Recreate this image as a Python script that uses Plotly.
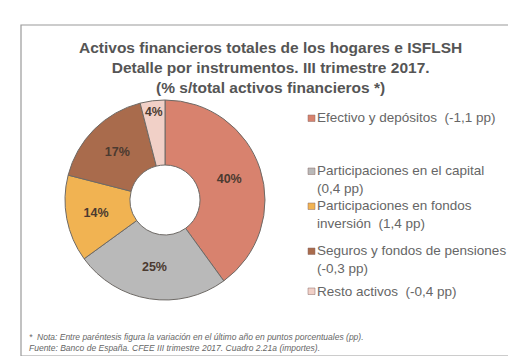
import plotly.graph_objects as go

categories = ["Efectivo y depósitos", "Participaciones en el capital",
              "Participaciones en fondos inversión", "Seguros y fondos de pensiones",
              "Resto activos"]
values = [40, 25, 14, 17, 4]
legend_labels = ["Efectivo y depósitos  (-1,1 pp)",
                 "Participaciones en el capital<br>(0,4 pp)",
                 "Participaciones en fondos<br>inversión  (1,4 pp)",
                 "Seguros y fondos de pensiones<br>(-0,3 pp)",
                 "Resto activos  (-0,4 pp)"]
colors = ["#d8826e", "#b9b9b9", "#f1b352", "#a96b4c", "#f1d0c7"]

W, H = 516, 356
fig = go.Figure()

cx, cy, r = 157, 192, 100
fig.add_trace(go.Pie(
    labels=categories, values=values, hole=0.35, sort=False, direction="clockwise",
    rotation=0,
    marker=dict(colors=colors, line=dict(color="#6e6a66", width=1)),
    texttemplate="%{value}%", textposition="inside", insidetextorientation="horizontal",
    textfont=dict(family="Liberation Sans, Arial", size=12.5, color="#4b3a30", weight="bold"),
    domain=dict(x=[(cx - r) / W, (cx + r) / W], y=[1 - (cy + r) / H, 1 - (cy - r) / H]),
    showlegend=False, hoverinfo="label+percent",
))

# frame
fig.add_shape(type="rect", xref="paper", yref="paper",
              x0=13 / W, x1=510 / W, y0=1 - 348 / H, y1=1 - 17 / H,
              line=dict(color="#9a9a9a", width=1.2), fillcolor="rgba(0,0,0,0)")

# title
fig.add_annotation(xref="paper", yref="paper", x=262 / W, y=1 - 60 / H,
                   text="Activos financieros totales de los hogares e ISFLSH<br>"
                        "Detalle por instrumentos. III trimestre 2017.<br>"
                        "(% s/total activos financieros *)",
                   showarrow=False, xanchor="center", yanchor="middle",
                   font=dict(family="Liberation Sans, Arial", size=15.5, color="#555555", weight="bold"),
                   align="center")

# legend
first_line_y = [110, 163, 198, 243, 283]
for lab, col, y in zip(legend_labels, colors, first_line_y):
    nlines = lab.count("<br>") + 1
    mid = y + (nlines - 1) * 8.5
    fig.add_shape(type="rect", xref="paper", yref="paper",
                  x0=300 / W, x1=307 / W, y0=1 - (y + 3.5) / H, y1=1 - (y - 3) / H,
                  fillcolor=col, line=dict(color="#8a6a66", width=0.5))
    fig.add_annotation(xref="paper", yref="paper", x=307 / W, y=1 - mid / H,
                       text=lab, showarrow=False, xanchor="left", yanchor="middle",
                       align="left",
                       font=dict(family="Liberation Sans, Arial", size=13.5, color="#666666"))

# footnote
fig.add_annotation(xref="paper", yref="paper", x=19 / W, y=1 - 334 / H,
                   text="<i>*  Nota: Entre paréntesis figura la variación en el último año en puntos porcentuales (pp).<br>"
                        "Fuente: Banco de España. CFEE III trimestre 2017. Cuadro 2.21a (importes).</i>",
                   showarrow=False, xanchor="left", yanchor="middle", align="left",
                   font=dict(family="Liberation Sans, Arial", size=8.5, color="#666666"))

fig.update_layout(width=W, height=H, margin=dict(l=0, r=0, t=0, b=0),
                  paper_bgcolor="white", plot_bgcolor="white")
fig.write_html("out.html")
